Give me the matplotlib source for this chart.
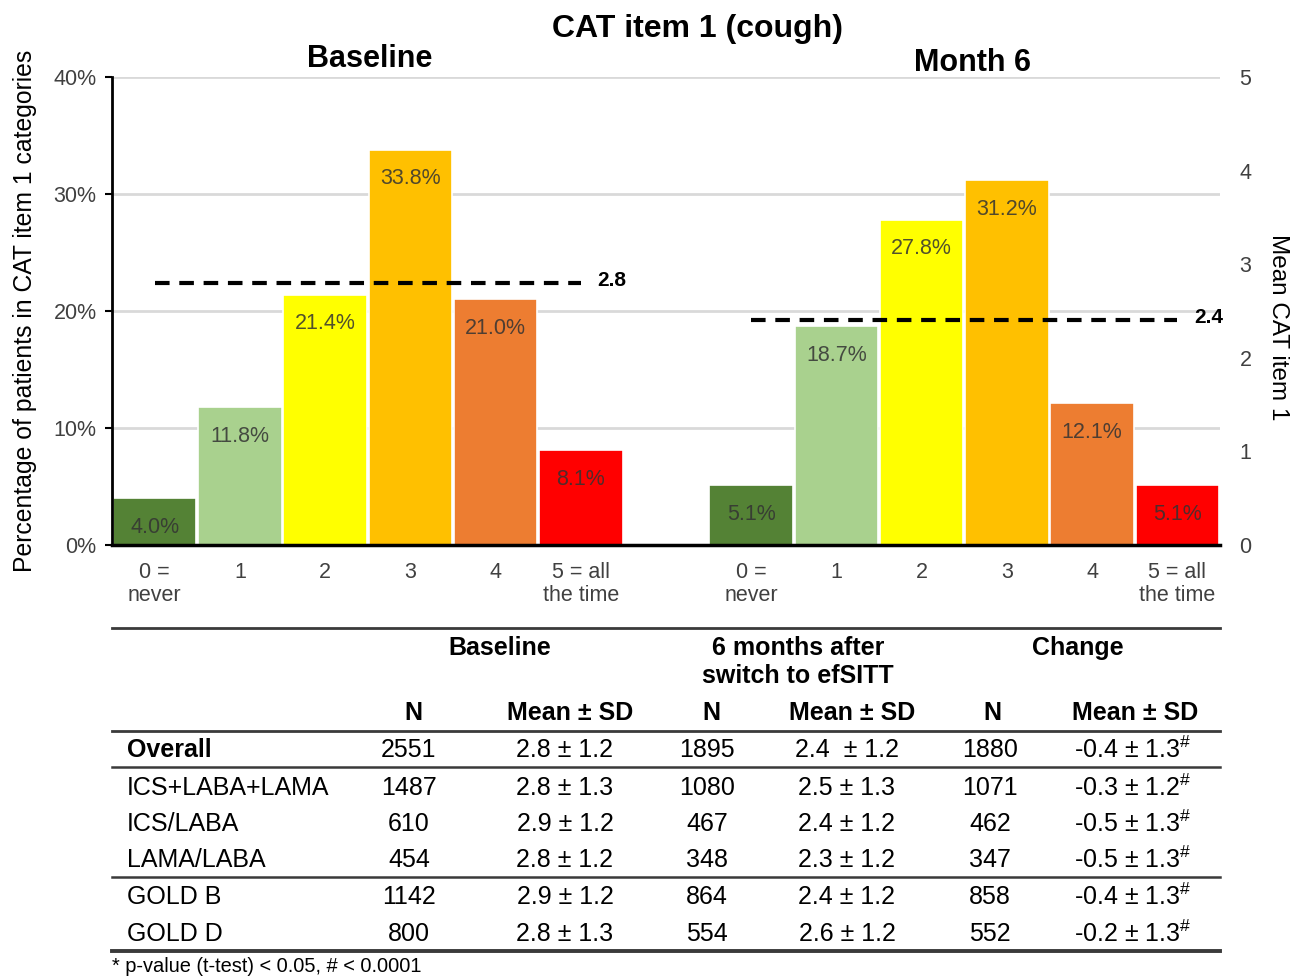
import numpy as np
import matplotlib
matplotlib.use("Agg")
import matplotlib.pyplot as plt
from matplotlib.lines import Line2D
import matplotlib.transforms as mtransforms

SANS = "Liberation Sans"

plt.rcParams.update({
    "font.family": SANS,
    "mathtext.fontset": "custom",
    "mathtext.rm": SANS,
    "mathtext.bf": SANS + ":bold",
    "lines.scale_dashes": False,
})

# --- data ---
categories = ["0 =\nnever", "1", "2", "3", "4", "5 = all\nthe time"]
baseline_pct = [4.0, 11.8, 21.4, 33.8, 21.0, 8.1]
month6_pct = [5.1, 18.7, 27.8, 31.2, 12.1, 5.1]
baseline_mean = 2.8
month6_mean = 2.4
bar_colors = ["#548235", "#a9d18e", "#ffff00", "#ffc000", "#ed7d31", "#ff0000"]

row_labels = ["Overall", "ICS+LABA+LAMA", "ICS/LABA", "LAMA/LABA", "GOLD B", "GOLD D"]
n_base = [2551, 1487, 610, 454, 1142, 800]
mean_base = ["2.8 ± 1.2", "2.8 ± 1.3", "2.9 ± 1.2", "2.8 ± 1.2", "2.9 ± 1.2", "2.8 ± 1.3"]
n_m6 = [1895, 1080, 467, 348, 864, 554]
mean_m6 = ["2.4  ± 1.2", "2.5 ± 1.3", "2.4 ± 1.2", "2.3 ± 1.2", "2.4 ± 1.2", "2.6 ± 1.2"]
n_chg = [1880, 1071, 462, 347, 858, 552]
mean_chg = ["-0.4 ± 1.3", "-0.3 ± 1.2", "-0.5 ± 1.3", "-0.5 ± 1.3", "-0.4 ± 1.3", "-0.2 ± 1.3"]

W, H = 1294, 977
fig = plt.figure(figsize=(W / 100, H / 100), dpi=100)
fig.patch.set_facecolor("white")

ax = fig.add_axes([112 / W, 1 - 545 / H, (1220 - 112) / W, (545 - 77) / H])
ax2 = ax.twinx()

x_base = np.arange(6)
x_m6 = np.arange(6) + 7
ax.bar(x_base, baseline_pct, width=0.98, color=bar_colors, edgecolor="white", linewidth=1.2, zorder=3)
ax.bar(x_m6, month6_pct, width=0.98, color=bar_colors, edgecolor="white", linewidth=1.2, zorder=3)

for xs, vals in [(x_base, baseline_pct), (x_m6, month6_pct)]:
    for x, v in zip(xs, vals):
        ax.text(x, v - 2.5, f"{v:.1f}%", ha="center", va="center", fontsize=15.5,
                color="#333333", alpha=0.85, zorder=4)

ax.set_xlim(-0.5, 12.5)
ax.set_ylim(0, 40)
ax.set_yticks([0, 10, 20, 30, 40])
ax.set_yticklabels([f"{t}%" for t in [0, 10, 20, 30, 40]])
ax.set_xticks(list(x_base) + list(x_m6))
ax.set_xticklabels(categories + categories, linespacing=1.15)
ax.tick_params(axis="y", length=5, width=1.5, pad=6, labelsize=15.5, labelcolor="#404040")
ax.tick_params(axis="x", length=0, pad=12, labelsize=15.5, labelcolor="#404040")
ax.yaxis.grid(True, color="#d9d9d9", linewidth=2)
ax.set_axisbelow(True)
for s in ["top", "right"]:
    ax.spines[s].set_visible(False)
ax.spines["left"].set_linewidth(2)
ax.spines["bottom"].set_linewidth(2.5)
ax.spines["bottom"].set_zorder(6)
ax.spines["left"].set_zorder(6)
ax.set_ylabel("Percentage of patients in CAT item 1 categories", fontsize=17.8, color="black")
ax.yaxis.set_label_coords(-0.068, 0.5)

# secondary axis with mean lines
ax2.set_ylim(0, 5)
ax2.set_yticks(range(6))
ax2.tick_params(axis="y", length=0, pad=14, labelsize=15.5, labelcolor="#404040")
for s in ax2.spines.values():
    s.set_visible(False)
ax2.set_ylabel("Mean CAT item 1", fontsize=17.5, rotation=270, color="black")
ax2.yaxis.set_label_coords(1.062, 0.466)

for xs, m in [(x_base, baseline_mean), (x_m6, month6_mean)]:
    ax2.plot(xs, [m] * len(xs), color="black", linewidth=3, dashes=(10.5, 7), zorder=5)
    ax2.annotate(f"{m:.1f}", xy=(xs[-1], m), xytext=(12, 2), textcoords="offset points",
                 ha="left", va="center", fontsize=15, fontweight="bold")

# titles
fig.text(697 / W, 1 - 29 / H, "CAT item 1 (cough)", ha="center", va="center",
         fontsize=23, fontweight="bold")
tr = mtransforms.blended_transform_factory(ax.transData, fig.transFigure)
ax.text(2.52, 1 - 59 / H, "Baseline", transform=tr, ha="center", va="center",
        fontsize=22, fontweight="bold")
ax.text(9.6, 1 - 63 / H, "Month 6", transform=tr, ha="center", va="center",
        fontsize=22, fontweight="bold")

# --- table (pixel coordinates) ---
tab = fig.add_axes([0, 0, 1, 1], facecolor="none")
tab.set_xlim(0, W)
tab.set_ylim(H, 0)
tab.axis("off")

for y, lw in [(628, 2), (731, 2), (767, 1.8), (877, 1.8), (951, 2.8)]:
    tab.add_line(Line2D([112, 1220], [y, y], color="#3a3a3a", linewidth=lw))

FS = 18
tab.text(500, 648, "Baseline", ha="center", va="center", fontsize=FS, fontweight="bold")
tab.text(798, 662, "6 months after\nswitch to efSITT", ha="center", va="center",
         fontsize=FS, fontweight="bold", linespacing=1.2)
tab.text(1078, 648, "Change", ha="center", va="center", fontsize=FS, fontweight="bold")

col_x = [409, 565, 707, 847, 990, 1133]
head_x = [413, 570, 711, 852, 992, 1135]
for hx, h in zip(head_x, ["N", "Mean ± SD"] * 3):
    tab.text(hx, 713, h, ha="center", va="center", fontsize=FS, fontweight="bold")

row_y = [750, 788, 824, 860, 897, 934]
for i, y in enumerate(row_y):
    tab.text(127, y, row_labels[i], ha="left", va="center", fontsize=FS,
             fontweight="bold" if i == 0 else "normal")
    vals = [str(n_base[i]), mean_base[i], str(n_m6[i]), mean_m6[i], str(n_chg[i]),
            mean_chg[i] + r"$^{\#}$"]
    for cx, v in zip(col_x, vals):
        tab.text(cx, y, v, ha="center", va="center", fontsize=FS)

tab.text(112, 967, "* p-value (t-test) < 0.05, # < 0.0001", ha="left", va="center", fontsize=14.4)

fig.savefig("out.png", dpi=100)
